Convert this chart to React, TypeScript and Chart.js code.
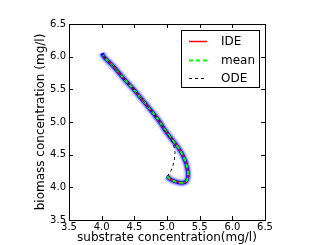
import { useEffect, useRef } from 'react';
import { Chart, registerables } from 'chart.js';

Chart.register(...registerables);

const xTickValues = [3.5, 4.0, 4.5, 5.0, 5.5, 6.0, 6.5];
const yTickValues = [3.5, 4.0, 4.5, 5.0, 5.5, 6.0, 6.5];
const xTitle = 'substrate concentration(mg/l)';
const yTitle = 'biomass concentration (mg/l)';
const legendLabels = ['IDE', 'mean', 'ODE'];

const ideSubstrate = [5.0, 5.05, 5.11, 5.18, 5.24, 5.29, 5.315, 5.32, 5.31, 5.29, 5.26, 5.22, 5.17, 5.11, 5.04, 4.96, 4.89, 4.8, 4.7, 4.58, 4.48, 4.36, 4.25, 4.17, 4.1, 4.05, 4.02];
const ideBiomass = [4.17, 4.125, 4.095, 4.075, 4.07, 4.09, 4.14, 4.21, 4.29, 4.37, 4.45, 4.53, 4.61, 4.69, 4.78, 4.89, 5.0, 5.12, 5.245, 5.39, 5.51, 5.64, 5.77, 5.86, 5.93, 5.98, 6.02];

const meanSubstrate = [5.0, 5.05, 5.11, 5.18, 5.24, 5.29, 5.315, 5.32, 5.31, 5.29, 5.26, 5.22, 5.17, 5.11, 5.04, 4.96, 4.89, 4.8, 4.7, 4.58, 4.48, 4.36, 4.25, 4.17, 4.1, 4.05, 4.02];
const meanBiomass = [4.17, 4.125, 4.095, 4.075, 4.07, 4.09, 4.14, 4.21, 4.29, 4.37, 4.45, 4.53, 4.61, 4.69, 4.78, 4.89, 5.0, 5.12, 5.245, 5.39, 5.51, 5.64, 5.77, 5.86, 5.93, 5.98, 6.02];

const odeSubstrate = [5.0, 5.035, 5.065, 5.09, 5.11, 5.12, 5.12, 5.105, 5.08, 5.05, 5.02, 4.96, 4.89, 4.8, 4.7, 4.58, 4.48, 4.36, 4.25, 4.17, 4.1, 4.05, 4.02];
const odeBiomass = [4.17, 4.21, 4.265, 4.33, 4.41, 4.49, 4.56, 4.63, 4.69, 4.745, 4.79, 4.88, 5.0, 5.12, 5.245, 5.39, 5.51, 5.64, 5.77, 5.86, 5.93, 5.98, 6.02];

const sampleSubstrate = [5.0, 5.05, 5.11, 5.18, 5.24, 5.29, 5.315, 5.32, 5.31, 5.29, 5.26, 5.22, 5.17, 5.11, 5.04, 4.96, 4.89, 4.8, 4.7, 4.58, 4.48, 4.36, 4.25, 4.17, 4.1, 4.05, 4.02, 4.005];
const sampleBiomass = [4.17, 4.125, 4.095, 4.075, 4.07, 4.09, 4.14, 4.21, 4.29, 4.37, 4.45, 4.53, 4.61, 4.69, 4.78, 4.89, 5.0, 5.12, 5.245, 5.39, 5.51, 5.64, 5.77, 5.86, 5.93, 5.98, 6.02, 6.055];

const toPoints = (xs: number[], ys: number[]) => xs.map((x, i) => ({ x, y: ys[i] }));

const framePlugin = {
  id: 'frameTicks',
  afterDatasetsDraw(chart: any) {
    const { ctx, chartArea, scales } = chart;
    const { left, right, top, bottom } = chartArea;
    ctx.save();
    ctx.strokeStyle = '#000';
    ctx.lineWidth = 1;
    ctx.setLineDash([]);
    ctx.strokeRect(left + 0.5, top + 0.5, right - left, bottom - top);
    ctx.beginPath();
    xTickValues.forEach((v) => {
      const px = Math.round(scales.x.getPixelForValue(v)) + 0.5;
      ctx.moveTo(px, bottom);
      ctx.lineTo(px, bottom - 4);
      ctx.moveTo(px, top);
      ctx.lineTo(px, top + 4);
    });
    yTickValues.forEach((v) => {
      const py = Math.round(scales.y.getPixelForValue(v)) + 0.5;
      ctx.moveTo(left, py);
      ctx.lineTo(left + 4, py);
      ctx.moveTo(right, py);
      ctx.lineTo(right - 4, py);
    });
    ctx.stroke();
    ctx.restore();
  },
};

const legendPlugin = {
  id: 'boxLegend',
  afterDraw(chart: any) {
    const { ctx, chartArea } = chart;
    const w = 78;
    const h = 57;
    const right = chartArea.right - 6;
    const top = chartArea.top + 6;
    const left = right - w;
    ctx.save();
    ctx.fillStyle = '#ffffff';
    ctx.fillRect(left, top, w, h);
    ctx.strokeStyle = '#000';
    ctx.lineWidth = 1;
    ctx.setLineDash([]);
    ctx.strokeRect(left + 0.5, top + 0.5, w, h);
    legendLabels.forEach((lab, i) => {
      const d = chart.data.datasets.find((ds: any) => ds.label === lab);
      if (!d) return;
      const y = Math.round(top + 11 + i * 18.5) + 0.5;
      ctx.beginPath();
      ctx.setLineDash(d.borderDash || []);
      ctx.lineWidth = d.borderWidth;
      ctx.strokeStyle = d.borderColor;
      ctx.moveTo(left + 8, y);
      ctx.lineTo(left + 26, y);
      ctx.stroke();
      ctx.setLineDash([]);
      ctx.fillStyle = '#000';
      ctx.font = '12px "DejaVu Sans"';
      ctx.textBaseline = 'middle';
      ctx.textAlign = 'left';
      ctx.fillText(lab, left + 40, y);
    });
    ctx.restore();
  },
};

export default function App() {
  const ref = useRef<HTMLCanvasElement | null>(null);
  useEffect(() => {
    if (!ref.current) return;
    Chart.defaults.font.family = '"DejaVu Sans", sans-serif';
    Chart.defaults.color = '#000';
    const commonLine = { pointRadius: 0, pointHoverRadius: 0, fill: false, tension: 0.4 };
    const chart = new Chart(ref.current, {
      type: 'line',
      data: {
        datasets: [
          { ...commonLine, label: 'IDE', data: toPoints(ideSubstrate, ideBiomass), borderColor: '#ff0000', borderWidth: 1.5, order: 2 },
          { ...commonLine, label: 'mean', data: toPoints(meanSubstrate, meanBiomass), borderColor: '#00ff00', borderWidth: 2, borderDash: [4, 3], order: 1 },
          { ...commonLine, label: 'ODE', data: toPoints(odeSubstrate, odeBiomass), borderColor: '#000000', borderWidth: 1, borderDash: [3, 3], order: 0 },
          { ...commonLine, label: 'samples core', data: toPoints(sampleSubstrate, sampleBiomass), borderColor: 'rgba(0,0,255,0.95)', borderWidth: 3.5, order: 3 },
          { ...commonLine, label: 'samples mid', data: toPoints(sampleSubstrate, sampleBiomass), borderColor: 'rgba(0,0,255,0.35)', borderWidth: 6, order: 4 },
          { ...commonLine, label: 'samples halo', data: toPoints(sampleSubstrate, sampleBiomass), borderColor: 'rgba(0,0,255,0.12)', borderWidth: 9, order: 5 },
        ],
      },
      options: {
        animation: false,
        responsive: false,
        devicePixelRatio: 1,
        layout: { padding: { left: 0, top: 24, right: 62, bottom: 0 } },
        plugins: { legend: { display: false }, tooltip: { enabled: false } },
        events: [],
        scales: {
          x: {
            type: 'linear',
            min: 3.5,
            max: 6.5,
            grid: { display: false, drawTicks: false },
            border: { display: false },
            afterBuildTicks: (s: any) => { s.ticks = xTickValues.map((v) => ({ value: v })); },
            afterFit: (s: any) => { s.height = 25; },
            ticks: { padding: 1, font: { size: 10 }, color: '#000', maxRotation: 0, autoSkip: false, callback: (v: any) => Number(v).toFixed(1) },
            title: { display: true, text: xTitle, font: { size: 12 }, color: '#000', padding: { top: 0, bottom: 0 } },
          },
          y: {
            type: 'linear',
            min: 3.5,
            max: 6.5,
            grid: { display: false, drawTicks: false },
            border: { display: false },
            afterBuildTicks: (s: any) => { s.ticks = yTickValues.map((v) => ({ value: v })); },
            afterFit: (s: any) => { s.width = 69; },
            ticks: { padding: 3, font: { size: 10 }, color: '#000', autoSkip: false, callback: (v: any) => Number(v).toFixed(1) },
            title: { display: true, text: yTitle, font: { size: 12 }, color: '#000', padding: { top: 34, bottom: 0 } },
          },
        },
      },
      plugins: [framePlugin, legendPlugin],
    } as any);
    return () => chart.destroy();
  }, []);
  return (
    <div style={{ position: 'absolute', left: 0, top: 0, width: 327, height: 245, background: '#fff' }}>
      <canvas ref={ref} width={327} height={245} style={{ display: 'block' }} />
    </div>
  );
}
